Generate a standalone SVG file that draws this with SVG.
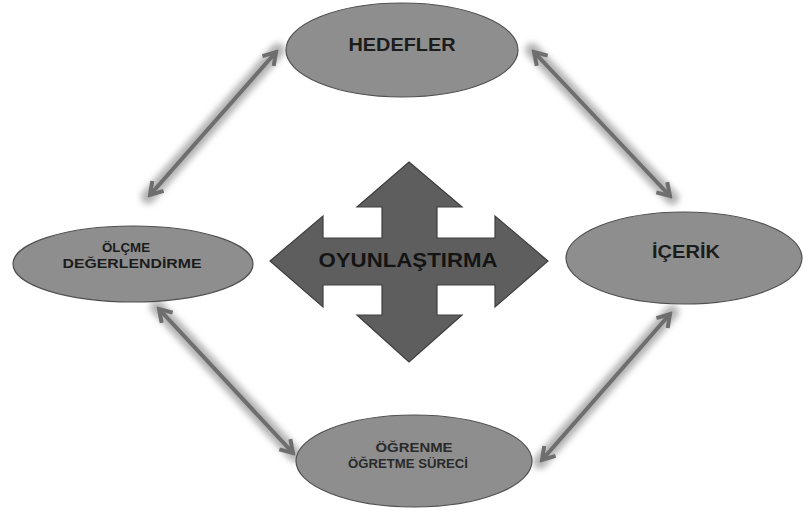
<svg xmlns="http://www.w3.org/2000/svg" width="805" height="512" viewBox="0 0 805 512">
<defs>
<style>
.node ellipse{fill:#8e8e8e;stroke:#505050;stroke-width:1.2}
.lbl{font-family:"Liberation Sans",Arial,sans-serif;font-weight:bold;fill:#1c1c1c;text-anchor:middle}
.big{font-size:19px}
.small{font-size:13.5px}
.halo{stroke:#999999;stroke-width:14;stroke-linecap:round;opacity:0.75;filter:url(#blur)}
.shaft{stroke:#6e6e6e;stroke-width:4;fill:none;marker-start:url(#head);marker-end:url(#head)}
</style>
<filter id="blur" x="-20%" y="-20%" width="140%" height="140%"><feGaussianBlur stdDeviation="3"/></filter>
<marker id="head" markerUnits="userSpaceOnUse" markerWidth="20" markerHeight="20" viewBox="0 0 20 20" refX="17" refY="10" orient="auto-start-reverse">
<path d="M5,2.5 L17,10 L5,17.5" fill="none" stroke="#6e6e6e" stroke-width="4" stroke-linejoin="miter"/>
</marker>
</defs>
<rect width="805" height="512" fill="#ffffff"/>
<g id="connectors">
<line class="halo" x1="148" y1="197" x2="278" y2="50"/>
<line class="halo" x1="532" y1="50" x2="672" y2="198"/>
<line class="halo" x1="157" y1="307" x2="295" y2="455"/>
<line class="halo" x1="672" y1="312" x2="540" y2="462"/>
<line class="shaft" x1="150" y1="195" x2="276" y2="52"/>
<line class="shaft" x1="534" y1="52" x2="670" y2="196"/>
<line class="shaft" x1="159" y1="309" x2="293" y2="453"/>
<line class="shaft" x1="670" y1="314" x2="542" y2="460"/>
</g>
<g id="hedefler" class="node">
<ellipse cx="402" cy="50" rx="116" ry="47"/>
<text class="lbl big" x="402" y="51" textLength="107" lengthAdjust="spacingAndGlyphs">HEDEFLER</text>
</g>
<g id="icerik" class="node">
<ellipse cx="684" cy="258" rx="118" ry="46"/>
<text class="lbl big" x="686" y="258" textLength="68" lengthAdjust="spacingAndGlyphs">İÇERİK</text>
</g>
<g id="olcme" class="node">
<ellipse cx="133" cy="264" rx="120" ry="38"/>
<text class="lbl small" x="126" y="252" textLength="48" lengthAdjust="spacingAndGlyphs">ÖLÇME</text>
<text class="lbl small" x="132" y="268" textLength="139" lengthAdjust="spacingAndGlyphs">DEĞERLENDİRME</text>
</g>
<g id="ogrenme" class="node">
<ellipse cx="414" cy="461" rx="118" ry="46"/>
<text class="lbl small" x="414" y="452" textLength="77" lengthAdjust="spacingAndGlyphs" style="fill:#2a2a2a">ÖĞRENME</text>
<text class="lbl small" x="408" y="468" textLength="120" lengthAdjust="spacingAndGlyphs" style="fill:#2a2a2a">ÖĞRETME SÜRECİ</text>
</g>
<g id="oyunlastirma">
<polygon points="409,162 462,207 437,207 437,238 495,238 495,216 548,261 495,307 495,285 437,285 437,315 462,315 409,362 357,315 382,315 382,285 323,285 323,307 270,261 323,216 323,238 382,238 382,207 357,207" fill="#5e5e5e" stroke="#3e3e3e" stroke-width="1.2" stroke-linejoin="miter"/>
<text class="lbl" x="408" y="267" font-size="20" textLength="179" lengthAdjust="spacingAndGlyphs" style="fill:#141414">OYUNLAŞTIRMA</text>
</g>
</svg>
